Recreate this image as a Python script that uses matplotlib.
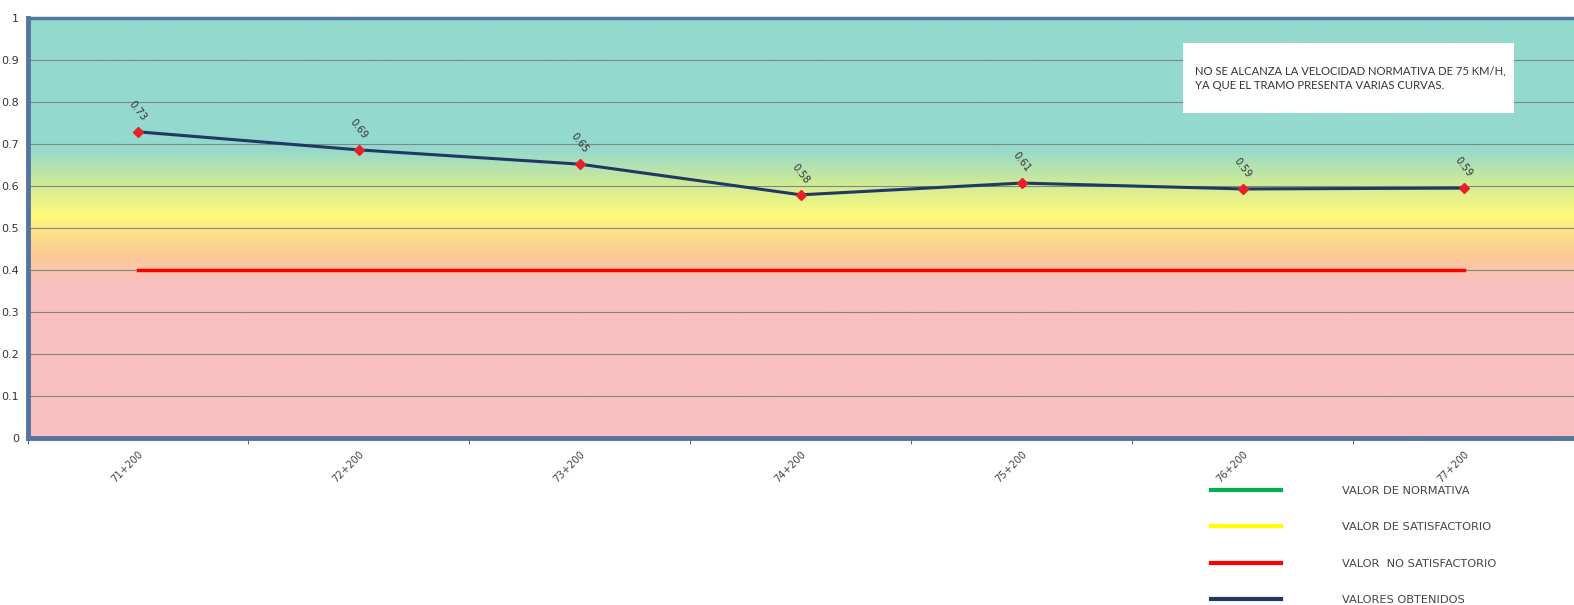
import numpy as np
import matplotlib.pyplot as plt
from matplotlib.colors import LinearSegmentedColormap
from matplotlib.lines import Line2D
from matplotlib.patches import Rectangle

# datos
progresivas = ["71+200", "72+200", "73+200", "74+200", "75+200", "76+200", "77+200"]
valores_obtenidos = [0.729, 0.686, 0.652, 0.579, 0.607, 0.593, 0.595]
valor_no_satisfactorio = [0.40, 0.40, 0.40, 0.40, 0.40, 0.40, 0.40]
y_ticks = [0, 0.1, 0.2, 0.3, 0.4, 0.5, 0.6, 0.7, 0.8, 0.9, 1]
nota = "NO SE ALCANZA LA VELOCIDAD NORMATIVA DE 75 KM/H,\nYA QUE EL TRAMO PRESENTA VARIAS CURVAS."
leyenda = ["VALOR DE NORMATIVA", "VALOR DE SATISFACTORIO",
           "VALOR  NO SATISFACTORIO", "VALORES OBTENIDOS"]

fig = plt.figure(figsize=(15.74, 6.05), dpi=100)
ax = fig.add_axes([27.5 / 1574, 1 - 438 / 605, 1 - 27.5 / 1574, 420 / 605])

x = np.arange(len(progresivas))
ax.set_xlim(-0.5, len(progresivas) - 0.5)
ax.set_ylim(0, 1)

# fondo degradado
fondo = LinearSegmentedColormap.from_list("fondo", [
    (0.00, "#FAC0C0"),
    (0.37, "#FAC0C0"),
    (0.44, "#FCCC92"),
    (0.49, "#FDE088"),
    (0.53, "#FFFB7A"),
    (0.61, "#CDEA98"),
    (0.69, "#94D9CE"),
    (1.00, "#94D9CE"),
])
grad = np.linspace(0, 1, 400).reshape(-1, 1)
ax.imshow(grad, cmap=fondo, aspect="auto", origin="lower",
          extent=[-0.5, len(progresivas) - 0.5, 0, 1], zorder=0)

ax.set_yticks(y_ticks)
ax.set_yticklabels([f"{v:g}" for v in y_ticks], fontsize=8, color="#333333")
ax.grid(axis="y", color="#7C8884", linewidth=0.8, zorder=1)
ax.tick_params(axis="y", length=0, pad=6)

ax.set_xticks(x)
ax.set_xticklabels(progresivas, rotation=45, ha="right", rotation_mode="anchor",
                   fontsize=7.2, color="#444444")
ax.tick_params(axis="x", length=0, pad=8)
ax.set_xticks(np.arange(len(progresivas) + 1) - 0.5, minor=True)
ax.tick_params(axis="x", which="minor", length=4, color="#444444")

for lado in ["left", "bottom", "top"]:
    ax.spines[lado].set_color("#5475A0")
    ax.spines[lado].set_linewidth(3.5 if lado != "top" else 2.5)
ax.spines["right"].set_visible(False)

ax.plot(x, valor_no_satisfactorio, color="#FF0000", linewidth=2.5, zorder=3)
ax.plot(x, valores_obtenidos, color="#1F3864", linewidth=2.2, zorder=4,
        marker="D", markersize=5, markerfacecolor="#E8202A", markeredgecolor="#E8202A")

for xi, v in zip(x, valores_obtenidos):
    ax.annotate(f"{v:.2f}", (xi, v), xytext=(0, 15), textcoords="offset points",
                rotation=-52, ha="center", va="center", fontsize=7.2, color="#333333")

# cuadro de nota
fig.patches.append(Rectangle((1183 / 1574, 1 - 113 / 605), 331 / 1574, 70 / 605,
                             transform=fig.transFigure, facecolor="white",
                             edgecolor="none", zorder=5))
fig.text(1195 / 1574, 1 - 78 / 605, nota, fontsize=8.1, color="#333333",
         family="Lato", va="center", ha="left", linespacing=1.45, zorder=6)

# leyenda
handles = [Line2D([], [], color=c, linewidth=3)
           for c in ["#00B050", "#FFFF00", "#FF0000", "#1F3864"]]
fig.legend(handles, leyenda, loc="upper left", bbox_to_anchor=(1201 / 1574, 1 - 476 / 605),
           frameon=False, fontsize=8.2, handlelength=6.1, handletextpad=5.4,
           labelspacing=2.3, labelcolor="#444444")

fig.savefig("out.png", dpi=100)
